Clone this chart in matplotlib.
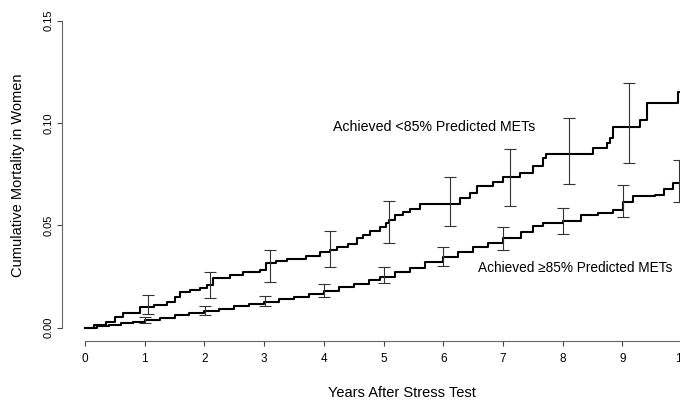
import numpy as np
import matplotlib
matplotlib.use("Agg")
import matplotlib.pyplot as plt

plt.rcParams['font.family'] = ['Liberation Sans', 'DejaVu Sans']

# curva <85% (tiempo, mortalidad acumulada)
t_bajo = [0.0, 0.15, 0.35, 0.5, 0.64, 0.92, 1.15, 1.37, 1.5, 1.59, 1.76, 1.93, 2.05, 2.15,
          2.43, 2.65, 2.93, 3.04, 3.2, 3.38, 3.71, 3.94, 4.1, 4.22, 4.4, 4.55, 4.65, 4.77,
          4.94, 5.05, 5.1, 5.2, 5.33, 5.45, 5.61, 6.28, 6.45, 6.56, 6.84, 7.0, 7.29, 7.5,
          7.67, 7.73, 8.51, 8.74, 8.79, 8.85, 9.3, 9.41, 9.93, 10.0]
m_bajo = [0.0, 0.0013, 0.003, 0.005, 0.0072, 0.0103, 0.011, 0.0127, 0.015, 0.0176, 0.0186,
          0.0196, 0.021, 0.0241, 0.0258, 0.0274, 0.0282, 0.0315, 0.0325, 0.0335, 0.0351,
          0.0369, 0.038, 0.0393, 0.041, 0.0437, 0.0455, 0.0474, 0.0494, 0.051, 0.0527,
          0.055, 0.0567, 0.058, 0.0605, 0.0633, 0.066, 0.069, 0.0714, 0.0738, 0.0755,
          0.079, 0.0828, 0.085, 0.0877, 0.0902, 0.0926, 0.0983, 0.1016, 0.1098, 0.1154,
          0.1154]

# curva >=85%
t_alto = [0.0, 0.2, 0.4, 0.6, 0.8, 1.0, 1.25, 1.5, 1.75, 2.0, 2.25, 2.5, 2.75, 3.0, 3.25,
          3.5, 3.75, 4.0, 4.25, 4.5, 4.75, 4.94, 5.2, 5.45, 5.7, 6.0, 6.25, 6.5, 6.75, 7.0,
          7.3, 7.5, 7.67, 8.0, 8.3, 8.6, 8.85, 9.02, 9.18, 9.55, 9.7, 9.85, 10.0]
m_alto = [0.0, 0.0008, 0.0015, 0.0022, 0.003, 0.0038, 0.0048, 0.006, 0.007, 0.0083, 0.0093,
          0.0104, 0.0115, 0.0127, 0.0138, 0.015, 0.0165, 0.0181, 0.0198, 0.0215, 0.0235,
          0.025, 0.027, 0.029, 0.032, 0.0347, 0.037, 0.0395, 0.0415, 0.0437, 0.047, 0.0495,
          0.0514, 0.0519, 0.0551, 0.056, 0.0576, 0.0616, 0.0644, 0.065, 0.068, 0.0706,
          0.0706]

# barras de error (limite inferior / superior)
eb_bajo_t = [1.05, 2.09, 3.1, 4.1, 5.1, 6.11, 7.12, 8.1, 9.11]
eb_bajo_lo = [0.0067, 0.0144, 0.0222, 0.0295, 0.0413, 0.0499, 0.0597, 0.0701, 0.0804]
eb_bajo_hi = [0.016, 0.0271, 0.038, 0.0473, 0.0621, 0.0735, 0.0872, 0.1024, 0.1195]

eb_alto_t = [1.0, 2.01, 3.02, 4.0, 5.0, 6.0, 7.0, 8.0, 9.02, 9.95]
eb_alto_lo = [0.0024, 0.0062, 0.0106, 0.0149, 0.022, 0.0302, 0.038, 0.0457, 0.054, 0.0616]
eb_alto_hi = [0.0054, 0.0106, 0.0157, 0.0212, 0.0295, 0.0396, 0.0494, 0.0584, 0.0698, 0.082]

x_ticks = list(range(0, 11))
y_ticks = [0.0, 0.05, 0.10, 0.15]
y_tick_labels = ["0.00", "0.05", "0.10", "0.15"]

W, H = 680, 403
fig = plt.figure(figsize=(W / 100, H / 100), dpi=100)
# eje: x=0 en px 85, x=10 en px 682 ; y=0 en px 327.7, y=0.15 en px 20.7
ax = fig.add_axes([85 / W, (H - 327.7) / H, 597 / W, 307 / H])

ax.step(t_bajo, m_bajo, where='post', color='black', lw=1.5, clip_on=False)
ax.step(t_alto, m_alto, where='post', color='black', lw=1.5, clip_on=False)

for tt, lo, hi in [(eb_bajo_t, eb_bajo_lo, eb_bajo_hi), (eb_alto_t, eb_alto_lo, eb_alto_hi)]:
    lo = np.array(lo)
    hi = np.array(hi)
    ax.errorbar(tt, (lo + hi) / 2, yerr=(hi - lo) / 2, fmt='none', ecolor='#333333',
                elinewidth=0.8, capsize=4.5, capthick=0.8, clip_on=False)

ax.set_xlim(0, 10)
ax.set_ylim(0, 0.15)

# ejes separados estilo R (outward en puntos: 23 px y 13 px)
for s in ['top', 'right']:
    ax.spines[s].set_visible(False)
ax.spines['left'].set_position(('outward', 23 * 0.72))
ax.spines['bottom'].set_position(('outward', 13 * 0.72))
ax.spines['left'].set_bounds(0, 0.15)
ax.spines['bottom'].set_bounds(0, 10)
for s in ['left', 'bottom']:
    ax.spines[s].set_color('#666666')
    ax.spines[s].set_linewidth(0.8)

ax.set_xticks(x_ticks)
ax.set_yticks(y_ticks)
ax.set_yticklabels(y_tick_labels, rotation=90, va='center', ha='center')
ax.tick_params(axis='both', colors='#444444', length=3.5, width=0.8, labelcolor='black')
ax.tick_params(axis='x', labelsize=8.5, pad=5)
ax.tick_params(axis='y', labelsize=8, pad=6)

fig.text(402 / W, 1 - 393 / H, "Years After Stress Test", fontsize=10.5,
         ha='center', va='center')
fig.text(18 / W, 1 - 175 / H, "Cumulative Mortality in Women", fontsize=10.5,
         rotation=90, ha='center', va='center')

fig.text(333 / W, 1 - 127 / H, "Achieved <85% Predicted METs", fontsize=10.2,
         ha='left', va='center')
fig.text(478 / W, 1 - 268 / H, "Achieved \u226585% Predicted METs", fontsize=9.8,
         ha='left', va='center')

fig.savefig("out.png", dpi=100)
